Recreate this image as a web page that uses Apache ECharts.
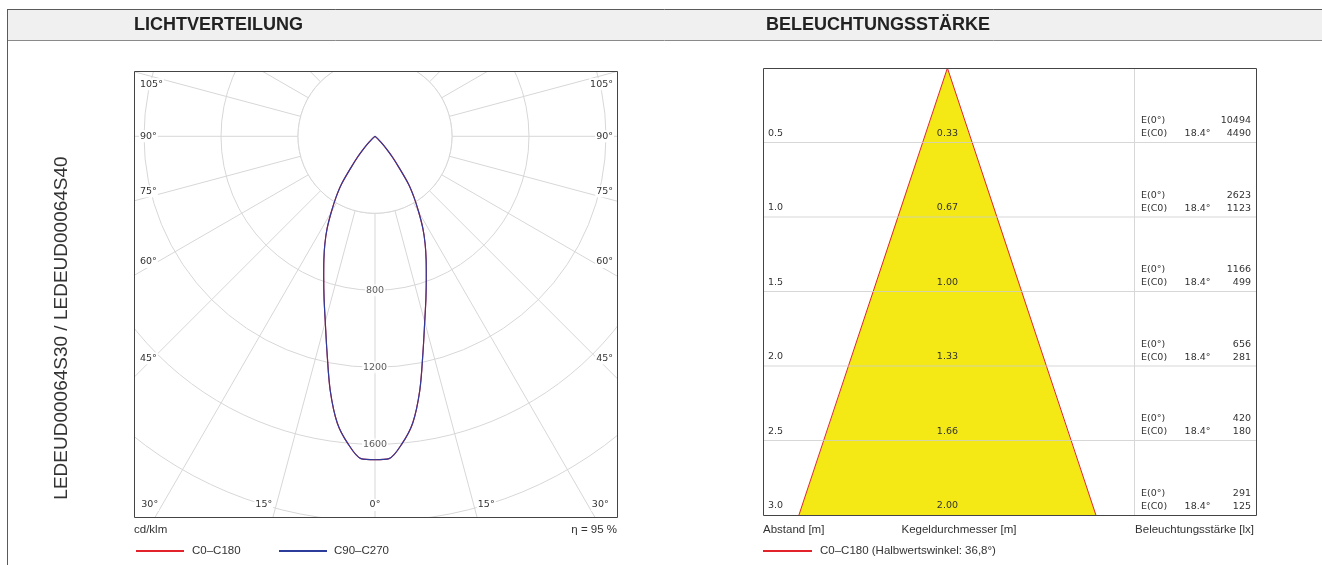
<!DOCTYPE html>
<html>
<head>
<meta charset="utf-8">
<script src="https://cdn.jsdelivr.net/npm/echarts@6/dist/echarts.min.js"></script>
<style>
html, body { margin: 0; padding: 0; background: #fff; }
#main { position: absolute; left: 0; top: 0; width: 1322px; height: 565px; }
#polar { position: absolute; left: 134px; top: 71px; width: 484px; height: 447px; }
</style>
</head>
<body>
<div id="main"></div>
<div id="polar"></div>
<script>
// --- Lichtverteilung (cd/klm), Ausstrahlungswinkel gamma in Grad ---
var gammaAngles = [0, 2.5, 5, 7.5, 10, 12.5, 15, 17.5, 20, 22.5, 25, 27.5, 30, 32.5, 35, 37.5, 40, 42.5, 45,
                   47.5, 50, 52.5, 55, 57.5, 60, 62.5, 65, 67.5, 70, 72.5, 75, 77.5, 80, 82.5, 85, 87.5, 90];
var c0c180  = [1680, 1676, 1604, 1502, 1340, 1151, 998, 880, 779, 694, 616, 538, 454, 379, 304, 205, 140, 85, 45,
               20, 5, 0, 0, 0, 0, 0, 0, 0, 0, 0, 0, 0, 0, 0, 0, 0, 0];
var c90c270 = [1680, 1676, 1604, 1502, 1340, 1151, 998, 880, 779, 694, 616, 538, 454, 379, 304, 205, 140, 85, 45,
               20, 5, 0, 0, 0, 0, 0, 0, 0, 0, 0, 0, 0, 0, 0, 0, 0, 0];
var radiusTicks = [800, 1200, 1600];
var angleTicks = [0, 15, 30, 45, 60, 75, 90, 105];
var eta = 95;

// --- Beleuchtungsstaerke ---
var distances = [0.5, 1.0, 1.5, 2.0, 2.5, 3.0];
var diameters = [0.33, 0.67, 1.00, 1.33, 1.66, 2.00];
var eCenter = [10494, 2623, 1166, 656, 420, 291];
var eC0 = [4490, 1123, 499, 281, 180, 125];
var halfAngle = 18.4;

var LABEL_FONT = '9.5px "DejaVu Sans"';
var TEXT_FONT = '11.5px "Liberation Sans"';
var GRID_COLOR = '#d7d7d7';
var RED = '#e3232b';
var BLUE = '#2b3c9b';

// ================= Polardiagramm =================
var POLAR_W = 484, POLAR_H = 447;
var CX = 241, CY = 65.3;
var R_MAX = 2400, POLAR_R = 462;

function halfCurve(values) {
    var pts = [];
    for (var i = gammaAngles.length - 1; i >= 0; i--) pts.push([values[i], gammaAngles[i]]);
    for (var j = 1; j < gammaAngles.length; j++) pts.push([values[j], -gammaAngles[j]]);
    return pts;
}

var polarGraphics = [{
    type: 'circle', z: 1,
    shape: { cx: CX, cy: CY, r: 400 * POLAR_R / R_MAX },
    style: { fill: '#fff', stroke: GRID_COLOR, lineWidth: 1 }
}];

angleTicks.forEach(function (a) {
    [-1, 1].forEach(function (s) {
        if (a === 0 && s > 0) return;
        var rad = a * Math.PI / 180;
        var x, y, align, valign;
        if (a <= 30) {
            y = POLAR_H - 13;
            x = CX + s * (y - CY) * Math.tan(rad);
            if (a === 0) { align = 'center'; } else { x += s * 3; align = s < 0 ? 'right' : 'left'; }
            valign = 'middle';
        } else {
            var dx = CX - 13;
            y = CY + dx / Math.tan(rad);
            if (a === 90) y = CY;
            x = s < 0 ? 5 : POLAR_W - 4;
            align = s < 0 ? 'left' : 'right';
            if (a < 90) valign = 'bottom';
            else if (a === 90) valign = 'middle';
            else { valign = 'top'; y += 3; }
        }
        polarGraphics.push({
            type: 'text', z: 20, x: x, y: y,
            style: {
                text: a + '°', font: LABEL_FONT, fill: '#333',
                align: align, verticalAlign: valign, textAlign: align, textVerticalAlign: valign,
                backgroundColor: '#fff', padding: [1, 1]
            }
        });
    });
});

polarGraphics.push({
    type: 'rect', z: 30,
    shape: { x: 0.5, y: 0.5, width: POLAR_W - 1, height: POLAR_H - 1 },
    style: { fill: null, stroke: '#444', lineWidth: 1 }
});

var polarChart = echarts.init(document.getElementById('polar'));
polarChart.setOption({
    animation: false,
    polar: { center: [CX, CY], radius: POLAR_R },
    angleAxis: {
        type: 'value', min: -180, max: 180, interval: 15,
        startAngle: 90, clockwise: true,
        axisLine: { show: false }, axisTick: { show: false }, axisLabel: { show: false },
        splitLine: { show: true, lineStyle: { color: GRID_COLOR, width: 1 } }
    },
    radiusAxis: {
        type: 'value', min: 0, max: R_MAX, interval: 400,
        axisLine: { show: false }, axisTick: { show: false }, axisLabel: { show: false },
        splitLine: { show: true, lineStyle: { color: GRID_COLOR, width: 1 } }
    },
    series: [{
        name: 'C0–C180', type: 'line', coordinateSystem: 'polar', z: 5,
        symbol: 'none', smooth: 0.3,
        lineStyle: { color: RED, width: 1.2 },
        data: halfCurve(c0c180)
    }, {
        name: 'C90–C270', type: 'line', coordinateSystem: 'polar', z: 6,
        symbol: 'none', smooth: 0.3,
        lineStyle: { color: BLUE, width: 1.1 },
        data: halfCurve(c90c270)
    }, {
        type: 'scatter', coordinateSystem: 'polar', z: 10,
        symbolSize: 0, silent: true,
        label: {
            show: true, position: 'inside', color: '#333', fontSize: 9.5, fontFamily: 'DejaVu Sans',
            backgroundColor: '#fff', padding: [1, 1],
            formatter: function (p) { return p.value[0]; }
        },
        data: radiusTicks.map(function (r) { return [r, 0]; })
    }],
    graphic: { elements: polarGraphics }
});

// ================= Rahmen, Texte, Kegeldiagramm =================
var GRID_L = 763, GRID_T = 68, GRID_W = 494, GRID_H = 447;
var X_MIN = -1.242, X_MAX = 2.085;
var SEP_X = 1134.5;

function txt(x, y, s, font, align, valign, extra, color) {
    var o = {
        type: 'text', x: x, y: y, z: 50,
        style: { text: s, font: font, fill: color || '#333', align: align, verticalAlign: valign,
                 textAlign: align, textVerticalAlign: valign }
    };
    if (extra) for (var k in extra) o[k] = extra[k];
    return o;
}

function hline(x1, x2, y, color, w) {
    return { type: 'line', z: 40, shape: { x1: x1, y1: y, x2: x2, y2: y }, style: { stroke: color, lineWidth: w || 1 } };
}

var TITLE_FONT = 'bold 18px "Liberation Sans"';
var mainGraphics = [
    { type: 'rect', z: 1, shape: { x: 7, y: 9, width: 1320, height: 31 }, style: { fill: '#f0f0f0' } },
    hline(7, 1322, 9.5, '#5a5a5a'),
    hline(7, 1322, 40.5, '#8a8a8a'),
    { type: 'line', z: 40, shape: { x1: 7.5, y1: 9, x2: 7.5, y2: 565 }, style: { stroke: '#5a5a5a', lineWidth: 1 } },
    txt(134, 25, 'LICHTVERTEILUNG', TITLE_FONT, 'left', 'middle', null, '#222'),
    txt(766, 25, 'BELEUCHTUNGSSTÄRKE', TITLE_FONT, 'left', 'middle', null, '#222'),
    txt(62, 328, 'LEDEUD00064S30 / LEDEUD00064S40', '19px "Liberation Sans"', 'center', 'middle', { rotation: Math.PI / 2 }),

    // Polardiagramm Beschriftung
    txt(134, 530, 'cd/klm', TEXT_FONT, 'left', 'middle'),
    txt(617, 530, 'η = ' + eta + ' %', TEXT_FONT, 'right', 'middle'),
    hline(136, 184, 551, RED, 2),
    txt(192, 551, 'C0–C180', TEXT_FONT, 'left', 'middle'),
    hline(279, 327, 551, BLUE, 2),
    txt(334, 551, 'C90–C270', TEXT_FONT, 'left', 'middle'),

    // Kegeldiagramm Beschriftung
    txt(763, 530, 'Abstand [m]', TEXT_FONT, 'left', 'middle'),
    txt(959, 530, 'Kegeldurchmesser [m]', TEXT_FONT, 'center', 'middle'),
    txt(1254, 530, 'Beleuchtungsstärke [lx]', TEXT_FONT, 'right', 'middle'),
    hline(763, 812, 551, RED, 2),
    txt(820, 551, 'C0–C180 (Halbwertswinkel: ' + (2 * halfAngle).toFixed(1).replace('.', ',') + '°)', TEXT_FONT, 'left', 'middle'),

    { type: 'line', z: 40, shape: { x1: SEP_X, y1: GRID_T, x2: SEP_X, y2: GRID_T + GRID_H }, style: { stroke: GRID_COLOR, lineWidth: 1 } },
    { type: 'rect', z: 45, shape: { x: GRID_L + 0.5, y: GRID_T + 0.5, width: GRID_W - 1, height: GRID_H }, style: { fill: null, stroke: '#444', lineWidth: 1 } }
];

var main = echarts.init(document.getElementById('main'));
main.setOption({
    animation: false,
    grid: { left: GRID_L, top: GRID_T, width: GRID_W, height: GRID_H },
    xAxis: { type: 'value', min: X_MIN, max: X_MAX, show: false },
    yAxis: { type: 'value', min: 0, max: 3, inverse: true, show: false },
    series: [{
        name: 'Kegel', type: 'custom', z: 2, silent: true,
        data: [[0, 0]],
        renderItem: function (params, api) {
            var apex = api.coord([0, 0]);
            var left = distances.map(function (d, i) { return api.coord([-diameters[i] / 2, d]); });
            var right = distances.map(function (d, i) { return api.coord([diameters[i] / 2, d]); }).reverse();
            return {
                type: 'group',
                children: [{
                    type: 'polygon', shape: { points: [apex].concat(left, right) },
                    style: { fill: '#f4e915' }
                }, {
                    type: 'polyline', shape: { points: [left[left.length - 1], apex, right[0]] },
                    style: { fill: null, stroke: RED, lineWidth: 1 }
                }]
            };
        }
    }, {
        name: 'Zeilen', type: 'custom', z: 4, silent: true,
        data: distances.map(function (d, i) { return [d, diameters[i], eCenter[i], eC0[i]]; }),
        renderItem: function (params, api) {
            var d = api.value(0);
            var pl = api.coord([X_MIN, d]);
            var pm = api.coord([0, d]);
            var pr = api.coord([X_MAX, d]);
            var y = pl[1];
            function t(x, yy, s, align) {
                return { type: 'text', x: x, y: yy,
                    style: { text: s, font: LABEL_FONT, fill: '#333', align: align, verticalAlign: 'middle',
                             textAlign: align, textVerticalAlign: 'middle' } };
            }
            var ch = [];
            if (d < 3) ch.push({ type: 'line', shape: { x1: pl[0], y1: y, x2: pr[0], y2: y },
                                 style: { stroke: 'rgba(205,205,205,0.8)', lineWidth: 1 } });
            ch.push(t(pl[0] + 5, y - 9, d.toFixed(1), 'left'));
            ch.push(t(pm[0], y - 9, api.value(1).toFixed(2), 'center'));
            ch.push(t(SEP_X + 6.5, y - 21.5, 'E(0°)', 'left'));
            ch.push(t(pr[0] - 6, y - 21.5, String(api.value(2)), 'right'));
            ch.push(t(SEP_X + 6.5, y - 8.5, 'E(C0)', 'left'));
            ch.push(t(SEP_X + 76, y - 8.5, halfAngle.toFixed(1) + '°', 'right'));
            ch.push(t(pr[0] - 6, y - 8.5, String(api.value(3)), 'right'));
            return { type: 'group', children: ch };
        }
    }],
    graphic: { elements: mainGraphics }
});
</script>
</body>
</html>
